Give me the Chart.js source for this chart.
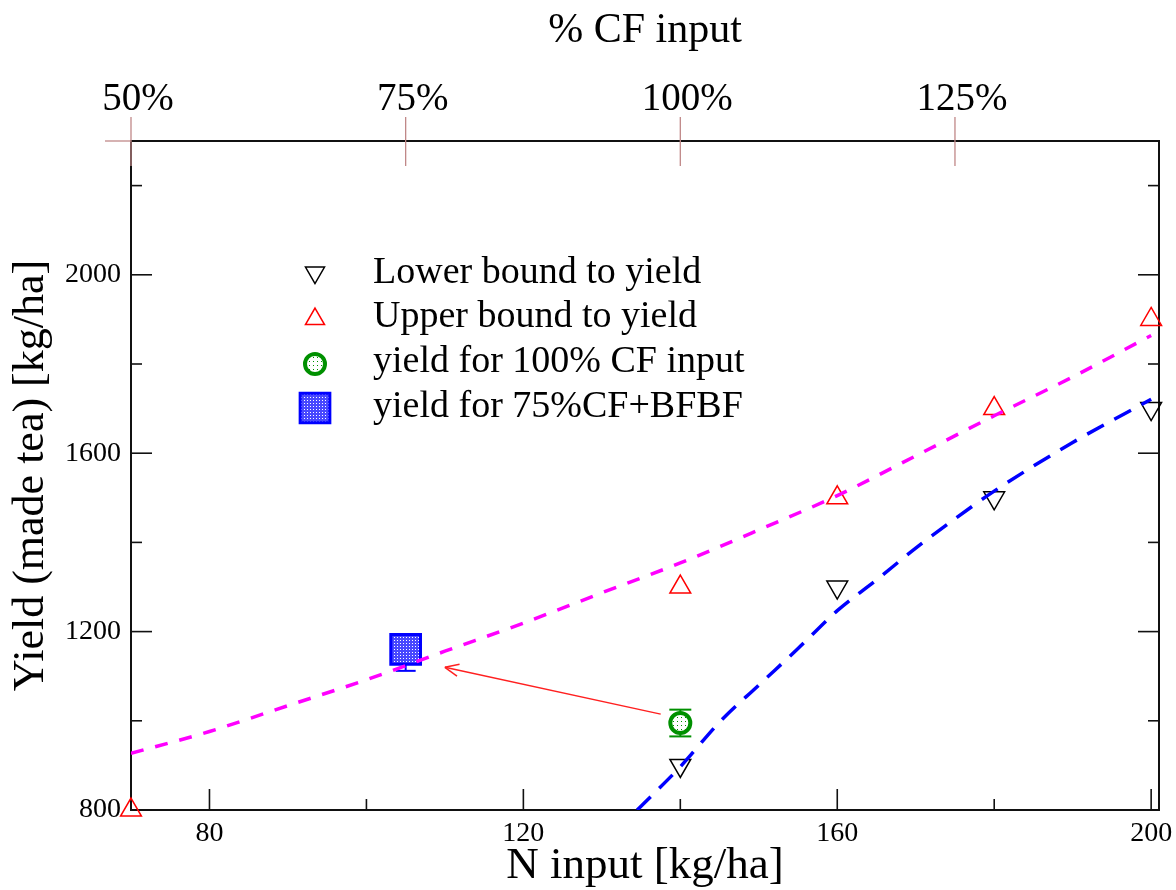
<!DOCTYPE html>
<html lang="en">
<head>
    <meta charset="UTF-8">
    <title>Yield vs N input</title>
    <script src="https://cdn.jsdelivr.net/npm/chart.js"></script>
    <style>
        body { margin: 0; background: #fff; }
    </style>
</head>
<body>
    <canvas id="yieldChart" width="1176" height="890"></canvas>

    <script>
        // measured points
        const upperN = [70, 140, 160, 180, 200];
        const upperYield = [800, 1300, 1500, 1700, 1900];
        const lowerN = [140, 160, 180, 200];
        const lowerYield = [900, 1300, 1500, 1700];
        const cfN = [140];
        const cfYield = [995];
        const cfErrLow = [30];
        const cfErrHigh = [30];
        const bfN = [105];
        const bfYield = [1160];
        const bfErrLow = [48];
        const bfErrHigh = [34];

        // fitted curves
        const upperFitN = [70, 80, 90, 100, 110, 120, 130, 140, 150, 160, 170, 180, 190, 200];
        const upperFitYield = [927, 976, 1034, 1092, 1156, 1219, 1287, 1354, 1428, 1505, 1594, 1684, 1771, 1864];
        const lowerFitN = [134.5, 140, 145, 150, 155, 160, 165, 170, 175, 180, 190, 200];
        const lowerFitYield = [800, 897, 997, 1080, 1162, 1247, 1316, 1387, 1453, 1515, 1624, 1721];

        // arrow from 100% CF point towards 75%CF+BFBF
        const arrowN = [137.5, 110];
        const arrowYield = [1015, 1120];

        // axes
        const xMin = 70, xMax = 201;
        const yMin = 800, yMax = 2300;
        const xTickValues = [80, 100, 120, 140, 160, 180, 200];
        const xTickLabels = [80, 120, 160, 200];
        const yTickValues = [800, 1000, 1200, 1400, 1600, 1800, 2000, 2200];
        const yTickLabels = [800, 1200, 1600, 2000];
        const cfTicks = [50, 75, 100, 125];   // % of CF input, 100% = 140 kg N/ha
        const cfFullN = 140;

        const legendLabels = [
            'Lower bound to yield',
            'Upper bound to yield',
            'yield for 100% CF input',
            'yield for 75%CF+BFBF'
        ];

        const serif = '"Liberation Serif", "Times New Roman", serif';

        function dotPattern(bg, fg, size) {
            const c = document.createElement('canvas');
            c.width = c.height = size;
            const g = c.getContext('2d');
            g.fillStyle = bg;
            g.fillRect(0, 0, size, size);
            g.fillStyle = fg;
            g.fillRect(1, 1, 1, 1);
            return g.createPattern(c, 'repeat');
        }
        const greenFill = dotPattern('#ffffff', '#009000', 4);
        const blueFill = dotPattern('#4848ff', '#ffffff', 3);

        const pts = (xs, ys) => xs.map((x, i) => ({ x: x, y: ys[i] }));

        const datasets = [
            {
                label: 'upper fit', data: pts(upperFitN, upperFitYield),
                borderColor: '#ff00ff', borderWidth: 3.5, borderDash: [13, 12],
                pointRadius: 0, cubicInterpolationMode: 'monotone'
            },
            {
                label: 'lower fit', data: pts(lowerFitN, lowerFitYield),
                borderColor: '#0000ff', borderWidth: 3.5, borderDash: [19, 12],
                pointRadius: 0, cubicInterpolationMode: 'monotone'
            },
            {
                label: 'arrow', data: pts(arrowN, arrowYield),
                borderColor: '#ff2020', borderWidth: 1.5, pointRadius: 0, isArrow: true
            },
            {
                label: legendLabels[0], data: pts(lowerN, lowerYield), showLine: false,
                pointStyle: 'triangle', pointRotation: 180, pointRadius: 12,
                pointBorderColor: '#000', pointBackgroundColor: 'rgba(0,0,0,0)', pointBorderWidth: 1.5,
                clip: false
            },
            {
                label: legendLabels[1], data: pts(upperN, upperYield), showLine: false,
                pointStyle: 'triangle', pointRadius: 12,
                pointBorderColor: '#ff0000', pointBackgroundColor: 'rgba(0,0,0,0)', pointBorderWidth: 1.5,
                clip: false
            },
            {
                label: legendLabels[2], data: pts(cfN, cfYield), showLine: false,
                errLow: cfErrLow, errHigh: cfErrHigh, capHalf: 11,
                pointStyle: 'circle', pointRadius: 10,
                pointBorderColor: '#009000', pointBackgroundColor: greenFill, pointBorderWidth: 4,
                clip: false
            },
            {
                label: legendLabels[3], data: pts(bfN, bfYield), showLine: false,
                errLow: bfErrLow, errHigh: bfErrHigh, capHalf: 10,
                pointStyle: 'rect', pointRadius: 21,
                pointBorderColor: '#0000ff', pointBackgroundColor: blueFill, pointBorderWidth: 3,
                clip: false
            }
        ];

        function line(ctx, x1, y1, x2, y2) {
            ctx.beginPath();
            ctx.moveTo(x1, y1);
            ctx.lineTo(x2, y2);
            ctx.stroke();
        }

        // frame, inward ticks, the red top axis ticks and error bars
        const framePlugin = {
            id: 'frame',
            beforeDatasetsDraw(chart) {
                const { ctx, chartArea: a, scales } = chart;
                ctx.save();
                ctx.strokeStyle = '#111';
                ctx.lineWidth = 2;
                ctx.strokeRect(a.left, a.top, a.right - a.left, a.bottom - a.top);

                ctx.lineWidth = 1.6;
                scales.x.ticks.forEach(t => {
                    const px = scales.x.getPixelForValue(t.value);
                    const len = xTickLabels.includes(t.value) ? 21 : 11;
                    line(ctx, px, a.bottom, px, a.bottom - len);
                });
                scales.y.ticks.forEach(t => {
                    const py = scales.y.getPixelForValue(t.value);
                    const len = yTickLabels.includes(t.value) ? 21 : 11;
                    line(ctx, a.left, py, a.left + len, py);
                    line(ctx, a.right, py, a.right - len, py);
                });

                ctx.strokeStyle = '#c08888';
                ctx.lineWidth = 1.3;
                scales.x2.ticks.forEach(t => {
                    const px = scales.x2.getPixelForValue(t.value);
                    line(ctx, px, a.top - 24, px, a.top + 25);
                });
                line(ctx, a.left - 26, a.top, a.left, a.top);

                // error bars
                chart.data.datasets.forEach(ds => {
                    if (!ds.errLow) return;
                    ctx.strokeStyle = ds.pointBorderColor;
                    ctx.lineWidth = 2;
                    ds.data.forEach((p, i) => {
                        const px = scales.x.getPixelForValue(p.x);
                        const lo = scales.y.getPixelForValue(p.y - ds.errLow[i]);
                        const hi = scales.y.getPixelForValue(p.y + ds.errHigh[i]);
                        line(ctx, px, lo, px, hi);
                        line(ctx, px - ds.capHalf, lo, px + ds.capHalf, lo);
                        line(ctx, px - ds.capHalf, hi, px + ds.capHalf, hi);
                    });
                });
                ctx.restore();
            },
            afterDatasetsDraw(chart) {
                const { ctx } = chart;
                chart.data.datasets.forEach((ds, i) => {
                    if (!ds.isArrow) return;
                    const meta = chart.getDatasetMeta(i);
                    const p0 = meta.data[0], p1 = meta.data[1];
                    const ang = Math.atan2(p1.y - p0.y, p1.x - p0.x);
                    const len = 15, spread = 0.42;
                    ctx.save();
                    ctx.strokeStyle = ds.borderColor;
                    ctx.lineWidth = 1.5;
                    line(ctx, p1.x, p1.y, p1.x - len * Math.cos(ang - spread), p1.y - len * Math.sin(ang - spread));
                    line(ctx, p1.x, p1.y, p1.x - len * Math.cos(ang + spread), p1.y - len * Math.sin(ang + spread));
                    ctx.restore();
                });
            },
            afterDraw(chart) {
                // legend inside the plot
                const { ctx } = chart;
                const symX = 315, textX = 373;
                const rows = [
                    { ds: 3, sy: 272.5, by: 283 },
                    { ds: 4, sy: 319, by: 327 },
                    { ds: 5, sy: 364, by: 372 },
                    { ds: 6, sy: 408, by: 417 }
                ];
                ctx.save();
                rows.forEach(r => {
                    const ds = chart.data.datasets[r.ds];
                    ctx.strokeStyle = ds.pointBorderColor;
                    ctx.fillStyle = ds.pointBackgroundColor;
                    ctx.lineWidth = ds.pointBorderWidth;
                    if (Chart.helpers && Chart.helpers.drawPoint) {
                        Chart.helpers.drawPoint(ctx, {
                            pointStyle: ds.pointStyle,
                            rotation: ds.pointRotation || 0,
                            radius: ds.pointStyle === 'rect' ? 21 : (ds.pointStyle === 'circle' ? 10 : 11),
                            borderWidth: ds.pointBorderWidth
                        }, symX, r.sy);
                    }
                    ctx.fillStyle = '#000';
                    ctx.font = '38px ' + serif;
                    ctx.textBaseline = 'alphabetic';
                    ctx.textAlign = 'left';
                    ctx.fillText(ds.label, textX, r.by);
                });
                ctx.restore();
            }
        };

        Chart.defaults.font.family = serif;
        Chart.defaults.color = '#000';

        new Chart(document.getElementById('yieldChart').getContext('2d'), {
            type: 'line',
            data: { datasets: datasets },
            options: {
                responsive: false,
                animation: false,
                layout: { autoPadding: false, padding: { right: 17 } },
                plugins: {
                    legend: { display: false },
                    tooltip: { enabled: false }
                },
                scales: {
                    x: {
                        type: 'linear', position: 'bottom', min: xMin, max: xMax,
                        grid: { display: false, drawTicks: false },
                        border: { display: false },
                        afterBuildTicks: s => { s.ticks = xTickValues.map(v => ({ value: v })); },
                        afterFit: s => { s.height = 80; s.paddingLeft = 0; s.paddingRight = 0; },
                        ticks: {
                            autoSkip: false, maxRotation: 0, padding: 7,
                            font: { size: 28 },
                            callback: v => xTickLabels.includes(v) ? String(v) : ''
                        },
                        title: {
                            display: true, text: 'N input [kg/ha]',
                            font: { size: 45, lineHeight: 1 }, padding: { top: 0, bottom: 1 }
                        }
                    },
                    x2: {
                        type: 'linear', position: 'top',
                        min: xMin * 100 / cfFullN, max: xMax * 100 / cfFullN,
                        grid: { display: false, drawTicks: false },
                        border: { display: false },
                        afterBuildTicks: s => { s.ticks = cfTicks.map(v => ({ value: v })); },
                        afterFit: s => { s.height = 141; s.paddingLeft = 0; s.paddingRight = 0; },
                        ticks: {
                            autoSkip: false, maxRotation: 0, padding: 18, labelOffset: 7,
                            font: { size: 39 },
                            callback: v => v + '%'
                        },
                        title: {
                            display: true, text: '% CF input',
                            font: { size: 42 }, padding: { top: 6, bottom: 0 }
                        }
                    },
                    y: {
                        type: 'linear', position: 'left', min: yMin, max: yMax,
                        grid: { display: false, drawTicks: false },
                        border: { display: false },
                        afterBuildTicks: s => { s.ticks = yTickValues.map(v => ({ value: v })); },
                        afterFit: s => { s.width = 131; },
                        ticks: {
                            autoSkip: false, padding: 10,
                            font: { size: 28 },
                            callback: v => yTickLabels.includes(v) ? String(v) : ''
                        },
                        title: {
                            display: true, text: 'Yield (made tea) [kg/ha]',
                            font: { size: 44 }, padding: { top: 5, bottom: 0 }
                        }
                    }
                }
            },
            plugins: [framePlugin]
        });
    </script>
</body>
</html>
